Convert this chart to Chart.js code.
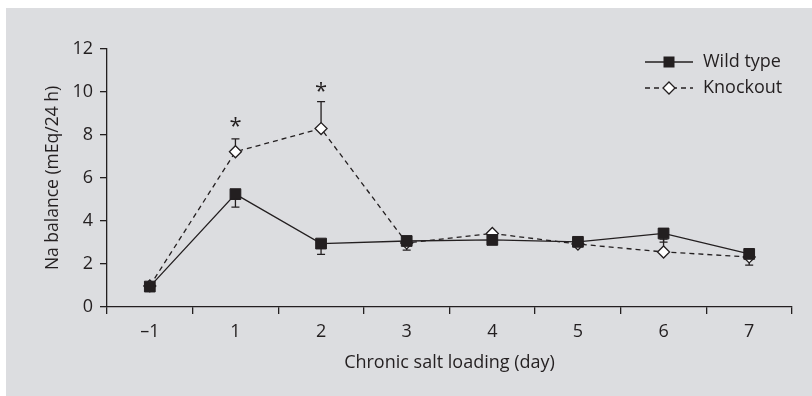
<!DOCTYPE html>
<html>
<head>
<meta charset="utf-8">
<script src="https://cdn.jsdelivr.net/npm/chart.js@4.4.1/dist/chart.umd.min.js"></script>
<style>
  html, body { margin: 0; padding: 0; background: #fff; }
  .panel { position: absolute; left: 6px; top: 8px; width: 806px; height: 388px; background: #dcdde0; }
  canvas { display: block; }
</style>
</head>
<body>
<div class="panel">
  <canvas id="naChart" width="806" height="388"></canvas>
</div>
<script>
const days = ['–1', '1', '2', '3', '4', '5', '6', '7'];
const wildType = [0.95, 5.25, 2.95, 3.07, 3.12, 3.03, 3.42, 2.47];
const wildTypeErrLow = [0, 0.6, 0.5, 0.42, 0, 0, 0.4, 0.52];
const knockout = [0.98, 7.22, 8.3, 2.98, 3.42, 2.93, 2.56, 2.33];
const knockoutErrHigh = [0, 0.6, 1.25, 0, 0, 0, 0.6, 0];
const starLevels = [null, 8.6, 10.25, null, null, null, null, null];

const ink = '#231f20';
const fontFamily = '"Open Sans", "Noto Sans", sans-serif';

const errorBars = {
  id: 'errorBars',
  beforeDatasetsDraw(chart) {
    const { ctx, scales: { x, y } } = chart;
    ctx.save();
    ctx.strokeStyle = ink;
    ctx.lineWidth = 1.3;
    const draw = (vals, errs, dir) => vals.forEach((v, i) => {
      if (!errs[i]) return;
      const px = x.getPixelForValue(i);
      const y0 = y.getPixelForValue(v);
      const y1 = y.getPixelForValue(v + dir * errs[i]);
      ctx.beginPath();
      ctx.moveTo(px, y0);
      ctx.lineTo(px, y1);
      ctx.moveTo(px - 4, y1);
      ctx.lineTo(px + 4, y1);
      ctx.stroke();
    });
    draw(wildType, wildTypeErrLow, -1);
    draw(knockout, knockoutErrHigh, 1);

    // significance marks
    ctx.fillStyle = ink;
    ctx.font = '22px ' + fontFamily;
    ctx.textAlign = 'center';
    ctx.textBaseline = 'alphabetic';
    starLevels.forEach((lvl, i) => {
      if (lvl == null) return;
      const m = ctx.measureText('*');
      const mid = (m.actualBoundingBoxAscent - m.actualBoundingBoxDescent) / 2;
      ctx.fillText('*', x.getPixelForValue(i), y.getPixelForValue(lvl) + mid);
    });
    ctx.restore();
  }
};

const sideLegend = {
  id: 'sideLegend',
  afterDraw(chart) {
    const { ctx } = chart;
    const rows = [
      { label: chart.data.datasets[0].label, dash: [], square: true, y: 54 },
      { label: chart.data.datasets[1].label, dash: [5, 4], square: false, y: 80 }
    ];
    ctx.save();
    rows.forEach(r => {
      ctx.strokeStyle = ink;
      ctx.lineWidth = 1.3;
      ctx.setLineDash(r.dash);
      ctx.beginPath();
      ctx.moveTo(639, r.y);
      ctx.lineTo(687, r.y);
      ctx.stroke();
      ctx.setLineDash([]);
      const cx = 663;
      if (r.square) {
        ctx.fillStyle = ink;
        ctx.fillRect(cx - 5.5, r.y - 5.5, 11, 11);
      } else {
        ctx.fillStyle = '#ffffff';
        ctx.beginPath();
        ctx.moveTo(cx, r.y - 6);
        ctx.lineTo(cx + 6, r.y);
        ctx.lineTo(cx, r.y + 6);
        ctx.lineTo(cx - 6, r.y);
        ctx.closePath();
        ctx.fill();
        ctx.stroke();
      }
      ctx.fillStyle = ink;
      ctx.font = '18px ' + fontFamily;
      ctx.textAlign = 'left';
      ctx.textBaseline = 'middle';
      ctx.fillText(r.label, 697, r.y);
    });
    ctx.restore();
  }
};

new Chart(document.getElementById('naChart'), {
  type: 'line',
  data: {
    labels: days,
    datasets: [{
      label: 'Wild type',
      data: wildType,
      borderColor: ink,
      borderWidth: 1.3,
      backgroundColor: ink,
      pointStyle: 'rect',
      pointRadius: 7.6,
      pointBorderWidth: 1,
      pointBorderColor: ink,
      pointBackgroundColor: ink,
      tension: 0
    }, {
      label: 'Knockout',
      data: knockout,
      borderColor: ink,
      borderWidth: 1.3,
      borderDash: [5, 4],
      pointStyle: 'rectRot',
      pointRadius: 6,
      pointBorderWidth: 1.3,
      pointBorderColor: ink,
      pointBackgroundColor: '#ffffff',
      tension: 0
    }]
  },
  options: {
    responsive: false,
    animation: false,
    layout: { padding: { top: 41, right: 20, bottom: 0, left: 0 } },
    plugins: {
      legend: { display: false },
      tooltip: { enabled: false }
    },
    scales: {
      x: {
        offset: true,
        grid: { offset: true, drawOnChartArea: false, color: ink, tickLength: 7, lineWidth: 1.3 },
        border: { color: ink, width: 1.3 },
        ticks: { color: ink, font: { family: fontFamily, size: 18 }, padding: 7, maxRotation: 0 },
        title: {
          display: true,
          text: 'Chronic salt loading (day)',
          color: ink,
          font: { family: fontFamily, size: 18 },
          padding: { top: 0, bottom: 22 }
        },
        afterFit(scale) { scale.height = 89; }
      },
      y: {
        min: 0,
        max: 12,
        ticks: { stepSize: 2, color: ink, font: { family: fontFamily, size: 18 }, padding: 7 },
        grid: { drawOnChartArea: false, color: ink, tickLength: 7, lineWidth: 1.3 },
        border: { color: ink, width: 1.3 },
        title: {
          display: true,
          text: 'Na balance (mEq/24 h)',
          color: ink,
          font: { family: fontFamily, size: 17.5 },
          padding: { top: 37, bottom: 37 }
        },
        afterFit(scale) { scale.width = 101; }
      }
    }
  },
  plugins: [errorBars, sideLegend]
});
</script>
</body>
</html>
